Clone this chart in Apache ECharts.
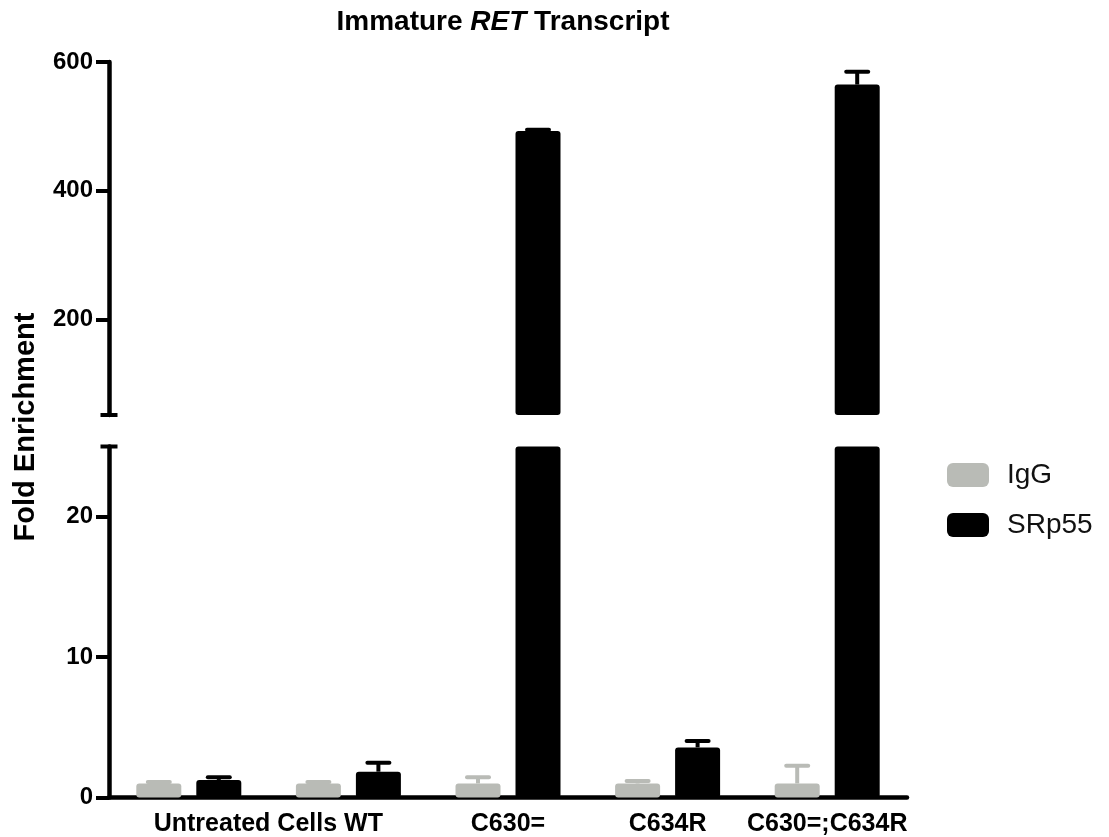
<!DOCTYPE html>
<html>
<head>
<meta charset="utf-8">
<script src="https://cdn.jsdelivr.net/npm/echarts@6/dist/echarts.min.js"></script>
<style>html,body{margin:0;padding:0;background:#fff;}#chart{width:1109px;height:837px;}</style>
</head>
<body>
<div id="chart"></div>
<script>
const categories = ['Untreated Cells WT', '', 'C630=', 'C634R', 'C630=;C634R'];
const seriesNames = ['IgG', 'SRp55'];
const igg = [1.0, 1.0, 1.0, 1.0, 1.0];
const iggErr = [0.1, 0.1, 0.45, 0.17, 1.26];
const srp55 = [1.25, 1.84, 493, 3.57, 565];
const srp55Err = [0.2, 0.64, 2, 0.45, 20];
const upperTicks = [200, 400, 600];
const lowerTicks = [0, 10, 20];
const upperRange = [52, 600];
const lowerRange = [0, 25];

const GRAY = '#b9bbb6';
const BLACK = '#000000';
const BAR_W = 45, BAR_GAP = 15;
const FONT = 'Liberation Sans, Arial, sans-serif';

function errData() {
  const d = [];
  for (let i = 0; i < categories.length; i++) {
    d.push([i, igg[i], iggErr[i], 0]);
    d.push([i, srp55[i], srp55Err[i], 1]);
  }
  return d;
}

function renderErr(params, api) {
  const cs = params.coordSys;
  const i = api.value(0), v = api.value(1), e = api.value(2), s = api.value(3);
  const base = api.coord([i, v]);
  const top = api.coord([i, v + e]);
  if (base[1] > cs.y + cs.height + 0.5 || top[1] < cs.y - 0.5) return null;
  if (base[1] < cs.y) return null;
  const x = base[0] + (s === 0 ? -1 : 1) * (BAR_W + BAR_GAP) / 2;
  const color = s === 0 ? GRAY : BLACK;
  return {
    type: 'group',
    children: [
      { type: 'line', shape: { x1: x, y1: base[1], x2: x, y2: top[1] }, style: { stroke: color, lineWidth: 4 } },
      { type: 'line', shape: { x1: x - 11, y1: top[1], x2: x + 11, y2: top[1] }, style: { stroke: color, lineWidth: 4, lineCap: 'round' } }
    ]
  };
}

const axisLabelStyle = { color: '#000', fontFamily: FONT, fontWeight: 'bold', fontSize: 24 };

const chart = echarts.init(document.getElementById('chart'), null, { renderer: 'canvas' });
chart.setOption({
  animation: false,
  backgroundColor: '#ffffff',
  title: {
    text: 'Immature {i|RET} Transcript',
    left: 503, top: 8, textAlign: 'center', padding: 0,
    textStyle: {
      fontFamily: FONT, fontWeight: 'bold', fontSize: 28, color: '#000',
      rich: { i: { fontFamily: FONT, fontWeight: 'bold', fontStyle: 'italic', fontSize: 28, color: '#000' } }
    }
  },
  legend: {
    data: seriesNames,
    orient: 'vertical',
    left: 947, top: 461, padding: 0,
    itemWidth: 42, itemHeight: 24, itemGap: 22,
    icon: 'roundRect',
    textStyle: { fontFamily: FONT, fontSize: 28, color: '#111', lineHeight: 24, padding: [0, 0, 0, 13] }
  },
  graphic: [{
    type: 'text',
    x: 26, y: 427, rotation: Math.PI / 2,
    style: { text: 'Fold Enrichment', fontFamily: FONT, fontWeight: 'bold', fontSize: 29, fill: '#000', textAlign: 'center', textVerticalAlign: 'middle' }
  }],
  grid: [
    { left: 109, right: 202, top: 62, height: 353 },
    { left: 109, right: 202, top: 446.5, bottom: 39.5 }
  ],
  xAxis: [
    { gridIndex: 0, type: 'category', data: categories, show: false },
    {
      gridIndex: 1, type: 'category', data: categories,
      axisLine: { lineStyle: { color: '#000', width: 4.5 } },
      axisTick: { alignWithLabel: true, length: 13, lineStyle: { color: '#000', width: 4 } },
      axisLabel: {
        interval: 0, margin: 14, ...axisLabelStyle, fontSize: 25,
        formatter: function (v, idx) { return idx === 0 ? '{f|' + v + '}' : v; },
        rich: { f: { ...axisLabelStyle, fontSize: 25, padding: [0, 0, 0, 159] } }
      }
    }
  ],
  yAxis: [
    {
      gridIndex: 0, type: 'value', min: upperRange[0], max: upperRange[1],
      splitLine: { show: false },
      axisLine: { show: true, symbol: ['rect', 'none'], symbolSize: [17, 4], lineStyle: { color: '#000', width: 4.5 } },
      axisTick: { show: true, length: 13, customValues: upperTicks, lineStyle: { color: '#000', width: 4 } },
      axisLabel: { margin: 16, customValues: upperTicks, ...axisLabelStyle }
    },
    {
      gridIndex: 1, type: 'value', min: lowerRange[0], max: lowerRange[1],
      splitLine: { show: false },
      axisLine: { show: true, symbol: ['none', 'rect'], symbolSize: [17, 4], lineStyle: { color: '#000', width: 4.5 } },
      axisTick: { show: true, length: 13, customValues: lowerTicks, lineStyle: { color: '#000', width: 4 } },
      axisLabel: { margin: 16, customValues: lowerTicks, ...axisLabelStyle }
    }
  ],
  series: [
    { name: 'IgG', type: 'bar', xAxisIndex: 0, yAxisIndex: 0, data: igg, barWidth: BAR_W, barGap: (BAR_GAP / BAR_W * 100) + '%', itemStyle: { color: GRAY, borderRadius: 3 }, clip: true },
    { name: 'SRp55', type: 'bar', xAxisIndex: 0, yAxisIndex: 0, data: srp55, barWidth: BAR_W, itemStyle: { color: BLACK, borderRadius: 3 }, clip: true },
    { name: 'IgG', type: 'bar', xAxisIndex: 1, yAxisIndex: 1, data: igg, barWidth: BAR_W, barGap: (BAR_GAP / BAR_W * 100) + '%', itemStyle: { color: GRAY, borderRadius: 3 }, clip: true },
    { name: 'SRp55', type: 'bar', xAxisIndex: 1, yAxisIndex: 1, data: srp55, barWidth: BAR_W, itemStyle: { color: BLACK, borderRadius: 3 }, clip: true },
    { name: 'errUpper', type: 'custom', xAxisIndex: 0, yAxisIndex: 0, data: errData(), renderItem: renderErr, z: 1 },
    { name: 'errLower', type: 'custom', xAxisIndex: 1, yAxisIndex: 1, data: errData(), renderItem: renderErr, z: 1 }
  ]
});
</script>
</body>
</html>
